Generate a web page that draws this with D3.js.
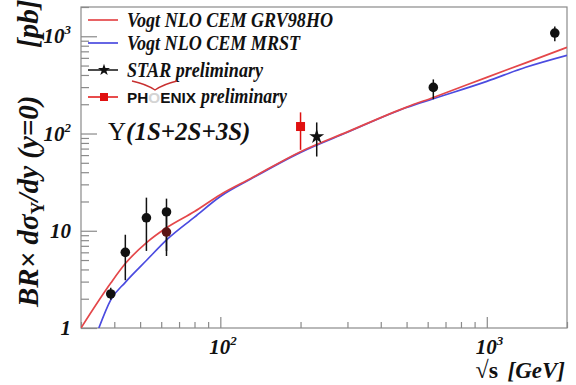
<!doctype html>
<meta charset="utf-8" />
<script src="https://cdn.jsdelivr.net/npm/d3@7/dist/d3.min.js"></script>
<style>
    body {
        margin: 0;
        background: white;
    }

    svg {
        display: block
    }

    text {
        font-family: "Liberation Serif", "Times New Roman", serif;
        font-weight: bold;
        font-style: italic;
        fill: #111;
    }
</style>
<svg id="chart"></svg>
<script>
    // Vogt NLO CEM curves
    var grvEnergy = [30, 38.8, 44, 53, 63, 80, 100, 130, 200, 300, 500, 630, 1000, 1400, 2000];
    var grvValue = [1.0, 2.9, 4.6, 7.6, 10.8, 15.8, 23.5, 34.5, 65, 104, 187, 235, 378, 533, 770];
    var mrstEnergy = [35, 38.8, 44, 53, 63, 80, 100, 130, 200, 300, 500, 630, 1000, 1400, 2000];
    var mrstValue = [1.0, 1.95, 2.95, 5.0, 8.1, 13.8, 22.5, 34, 64, 103, 185, 228, 344, 480, 637];

    // world data (black circles)
    var worldEnergy = [38.8, 44, 52.8, 62.8, 62.8, 630, 1800];
    var worldValue = [2.24, 6.0, 13.6, 15.6, 9.7, 298, 1080];
    var worldLow = [1.95, 3.1, 6.2, 6.2, 5.5, 225, 890];
    var worldHigh = [2.6, 9.1, 21.9, 21.4, 14, 360, 1260];

    // STAR / PHENIX preliminary
    var starEnergy = [230], starValue = [93], starLow = [58], starHigh = [130];
    var phenixEnergy = [200], phenixValue = [118], phenixLow = [68], phenixHigh = [165];

    var yTickLabels = [[1, '1', ''], [10, '10', ''], [100, '10', '2'], [1000, '10', '3']];
    var xTickLabels = [[100, '10', '2'], [1000, '10', '3']];

    var legendLabels = ['Vogt NLO CEM GRV98HO', 'Vogt NLO CEM MRST', 'STAR', 'preliminary'];

    var red = '#e4474a', blue = '#4b4be0', grey = '#8a8a8a';

    var svg = d3.select('svg#chart')
        .attr('width', 576)
        .attr('height', 385);

    var x = d3.scaleLog().domain([30, 2000]).range([81, 567]);
    var y = d3.scaleLog().domain([1, 2000]).range([328, 7]);

    svg.append('clipPath').attr('id', 'clip')
        .append('rect')
        .attr('x', 81).attr('y', 7).attr('width', 486).attr('height', 321);

    // frame
    svg.append('rect')
        .attr('x', 81).attr('y', 7).attr('width', 486).attr('height', 321)
        .attr('fill', 'none').attr('stroke', grey).attr('stroke-width', 1.2);

    var isMajor = d => Math.abs(Math.log10(d) - Math.round(Math.log10(d))) < 1e-6;
    var yTicks = y.ticks();
    var xTicks = x.ticks();

    function styleAxis(g) {
        g.select('.domain').remove();
        g.selectAll('line').attr('stroke', grey).attr('stroke-width', 1.2);
    }

    svg.append('g').attr('transform', 'translate(81,0)')
        .call(d3.axisLeft(y).tickValues(yTicks.filter(d => !isMajor(d))).tickSize(-8).tickFormat(''))
        .call(styleAxis);
    svg.append('g').attr('transform', 'translate(81,0)')
        .call(d3.axisLeft(y).tickValues(yTicks.filter(isMajor)).tickSize(-16).tickFormat(''))
        .call(styleAxis);
    svg.append('g').attr('transform', 'translate(0,328)')
        .call(d3.axisBottom(x).tickValues(xTicks.filter(d => !isMajor(d))).tickSize(-6).tickFormat(''))
        .call(styleAxis);
    svg.append('g').attr('transform', 'translate(0,328)')
        .call(d3.axisBottom(x).tickValues(xTicks.filter(isMajor)).tickSize(-11).tickFormat(''))
        .call(styleAxis);

    // tick labels
    yTickLabels.forEach(function (t) {
        var tx = svg.append('text')
            .attr('x', 71).attr('y', y(t[0]) + 7)
            .attr('text-anchor', 'end')
            .style('font-size', '21px');
        tx.append('tspan').text(t[1]);
        if (t[2]) tx.append('tspan').attr('dy', -9).style('font-size', '13px').text(t[2]);
    });
    xTickLabels.forEach(function (t) {
        var tx = svg.append('text')
            .attr('x', x(t[0]) - 11).attr('y', 354)
            .style('font-size', '21px');
        tx.append('tspan').text(t[1]);
        tx.append('tspan').attr('dy', -9).style('font-size', '13px').text(t[2]);
    });

    // axis titles
    var yt = svg.append('text')
        .attr('transform', 'translate(38,307) rotate(-90)')
        .style('font-size', '29px');
    yt.append('tspan').text('BR× dσ');
    yt.append('tspan').attr('dy', 6).style('font-size', '18px').style('font-style', 'normal').text('Υ');
    yt.append('tspan').attr('dy', -6).text('/dy (y=0)');
    svg.append('text')
        .attr('transform', 'translate(38,48) rotate(-90)')
        .style('font-size', '29px')
        .text('[pb]');

    svg.append('text')
        .attr('x', 498).attr('y', 378)
        .attr('text-anchor', 'end')
        .style('font-size', '24px').style('font-style', 'normal')
        .text('√s');
    svg.append('text')
        .attr('x', 565).attr('y', 378)
        .attr('text-anchor', 'end')
        .style('font-size', '23px')
        .text('[GeV]');

    // curves
    var line = d3.line().curve(d3.curveMonotoneX).x(d => x(d[0])).y(d => y(d[1]));
    var curves = svg.append('g').attr('clip-path', 'url(#clip)');
    curves.append('path')
        .datum(d3.zip(mrstEnergy, mrstValue))
        .attr('d', line).attr('fill', 'none')
        .attr('stroke', blue).attr('stroke-width', 1.7);
    curves.append('path')
        .datum(d3.zip(grvEnergy, grvValue))
        .attr('d', line).attr('fill', 'none')
        .attr('stroke', red).attr('stroke-width', 1.7);

    // data points
    function errorBars(energy, low, high, color) {
        svg.append('g').selectAll('line')
            .data(d3.range(energy.length))
            .enter().append('line')
            .attr('x1', i => x(energy[i])).attr('x2', i => x(energy[i]))
            .attr('y1', i => y(low[i])).attr('y2', i => y(high[i]))
            .attr('stroke', color).attr('stroke-width', 1.5);
    }

    errorBars(worldEnergy, worldLow, worldHigh, '#111');
    svg.append('g').selectAll('circle')
        .data(d3.range(worldEnergy.length))
        .enter().append('circle')
        .attr('cx', i => x(worldEnergy[i]))
        .attr('cy', i => y(worldValue[i]))
        .attr('r', 4.8)
        .attr('fill', (d, i) => i === 4 ? '#5a1414' : '#111');

    errorBars(phenixEnergy, phenixLow, phenixHigh, '#d11');
    svg.append('g').selectAll('rect')
        .data(d3.range(phenixEnergy.length))
        .enter().append('rect')
        .attr('x', i => x(phenixEnergy[i]) - 4.5)
        .attr('y', i => y(phenixValue[i]) - 4.5)
        .attr('width', 9).attr('height', 9)
        .attr('fill', '#e01010');

    var star = d3.symbol().type(d3.symbolStar).size(70);
    var smallStar = d3.symbol().type(d3.symbolStar).size(45);
    errorBars(starEnergy, starLow, starHigh, '#111');
    svg.append('g').selectAll('path')
        .data(d3.range(starEnergy.length))
        .enter().append('path')
        .attr('d', star)
        .attr('transform', i => 'translate(' + x(starEnergy[i]) + ',' + y(starValue[i]) + ')')
        .attr('fill', '#111');

    // legend
    var lg = svg.append('g');
    lg.append('line').attr('x1', 88).attr('x2', 118).attr('y1', 20).attr('y2', 20)
        .attr('stroke', red).attr('stroke-width', 1.7);
    lg.append('line').attr('x1', 88).attr('x2', 118).attr('y1', 43).attr('y2', 43)
        .attr('stroke', blue).attr('stroke-width', 1.7);
    lg.append('line').attr('x1', 88).attr('x2', 118).attr('y1', 70).attr('y2', 70)
        .attr('stroke', '#111').attr('stroke-width', 1.5);
    lg.append('path').attr('d', smallStar).attr('transform', 'translate(104,70)').attr('fill', '#111');
    lg.append('line').attr('x1', 88).attr('x2', 118).attr('y1', 97).attr('y2', 97)
        .attr('stroke', '#e01010').attr('stroke-width', 1.5);
    lg.append('rect').attr('x', 100).attr('y', 93).attr('width', 8).attr('height', 8).attr('fill', '#e01010');

    lg.append('text').attr('x', 127).attr('y', 27).style('font-size', '20px')
        .attr('textLength', 206).attr('lengthAdjust', 'spacingAndGlyphs').text(legendLabels[0]);
    lg.append('text').attr('x', 127).attr('y', 50).style('font-size', '20px')
        .attr('textLength', 173).attr('lengthAdjust', 'spacingAndGlyphs').text(legendLabels[1]);
    lg.append('text').attr('x', 127).attr('y', 77).style('font-size', '20px')
        .attr('textLength', 136).attr('lengthAdjust', 'spacingAndGlyphs')
        .text(legendLabels[2] + ' ' + legendLabels[3]);

    // PHENIX logo word
    lg.append('path')
        .attr('d', 'M132,81 Q146,84 155,90 Q164,84 177,81')
        .attr('fill', 'none').attr('stroke', '#c83030').attr('stroke-width', 1.4);
    var ph = lg.append('text').attr('x', 127).attr('y', 103).style('font-size', '15px')
        .style('font-family', '"Liberation Sans", Arial, sans-serif')
        .style('font-style', 'normal')
        .attr('textLength', 69).attr('lengthAdjust', 'spacingAndGlyphs');
    ph.append('tspan').text('PH');
    ph.append('tspan').style('fill', '#d4d4d4').text('O');
    ph.append('tspan').text('ENIX');
    lg.append('text').attr('x', 201).attr('y', 103).style('font-size', '20px')
        .attr('textLength', 86).attr('lengthAdjust', 'spacingAndGlyphs')
        .text(legendLabels[3]);

    // state label
    var ups = svg.append('text').attr('x', 108).attr('y', 140).style('font-size', '25px');
    ups.append('tspan').style('font-style', 'normal').style('font-weight', 'normal').text('Υ');
    ups.append('tspan').text('(1S+2S+3S)');
</script>
